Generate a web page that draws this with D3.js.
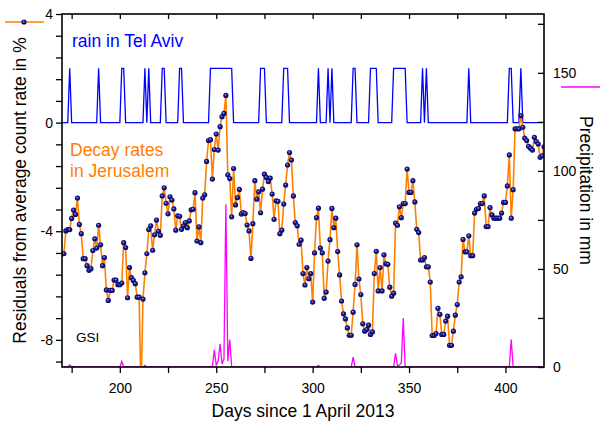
<!DOCTYPE html>
<html>
<head>
<meta charset="utf-8">
<script src="https://d3js.org/d3.v7.min.js"></script>
<style>
  body { margin: 0; background: #fff; }
  svg { display: block; font-family: "Liberation Sans", Arial, sans-serif; }
</style>
</head>
<body>
<svg width="600" height="422"></svg>
<script>
// residuals of decay rate (%), one value per day starting at firstDay
var firstDay = 170;
var decay = [
  -4.83, -4.83, -3.99, -3.94, -3.94, -3.53, -3.22, -3.38, -2.78, -3.75,
  -4.09, -5.01, -5.01, -5.27, -5.44, -5.38, -4.71, -4.28, -4.62, -3.78,
  -4.50, -5.27, -4.97, -6.16, -6.55, -6.18, -6.18, -5.80, -5.80, -5.97,
  -5.97, -5.91, -4.42, -4.60, -6.45, -5.34, -5.71, -5.81, -5.93, -6.43,
  -6.43, -10.0, -6.50, -5.53, -4.83, -3.94, -3.80, -4.70, -4.13, -3.59,
  -4.00, -4.15, -2.70, -2.40, -2.97, -3.36, -2.73, -2.85, -3.18, -3.96,
  -3.43, -3.45, -3.93, -3.80, -3.68, -3.87, -3.62, -3.21, -3.19, -2.58,
  -4.36, -3.84, -4.42, -2.78, -2.66, -1.43, -0.66, -0.63, -2.08, -0.99,
  -0.42, -1.01, -0.15, 0.22, 0.34, 1.00, -1.92, -2.06, -3.47, -1.69,
  -3.03, -2.76, -2.46, -3.37, -3.31, -3.35, -3.77, -3.99, -5.00, -3.72,
  -2.14, -2.82, -2.55, -3.32, -2.45, -1.90, -2.02, -2.17, -2.04, -2.63,
  -3.56, -2.88, -2.90, -4.09, -3.96, -3.00, -2.30, -1.56, -1.10, -1.38,
  -2.70, -3.68, -3.80, -4.48, -4.33, -5.56, -5.98, -5.34, -5.75, -5.56,
  -6.61, -4.80, -3.50, -3.15, -4.62, -4.80, -6.47, -6.24, -5.10, -4.31,
  -3.16, -3.87, -3.52, -4.75, -5.61, -6.57, -7.04, -7.23, -7.56, -7.83,
  -7.83, -6.98, -5.96, -4.50, -5.76, -6.33, -7.41, -7.68, -7.62, -7.46,
  -7.80, -7.71, -5.56, -4.74, -6.20, -5.34, -6.20, -4.87, -5.20, -5.22,
  -6.06, -6.39, -6.28, -3.70, -3.78, -3.10, -3.50, -2.98, -2.98, -1.71,
  -2.57, -2.57, -2.14, -2.92, -3.93, -4.05, -5.06, -5.06, -4.97, -5.31,
  -5.31, -5.87, -7.84, -7.84, -7.77, -6.84, -7.06, -7.80, -7.80, -7.31,
  -7.13, -8.20, -8.20, -7.68, -7.09, -6.70, -5.87, -5.68, -4.30, -4.76,
  -4.76, -4.17, -4.90, -4.90, -3.33, -3.19, -3.16, -2.98, -2.98, -2.70,
  -3.83, -3.83, -3.13, -3.40, -3.52, -3.52, -3.52, -3.52, -3.33, -2.94,
  -2.94, -2.33, -1.19, -3.52, -2.47, -0.23, -0.23, -0.23, 0.26, -0.17,
  -0.57, -0.66, -0.87, -0.94, -1.01, -0.54, -0.70, -0.79, -1.28, -1.22,
  -0.89
];

// days with rain in Tel Aviv (first day, last day); drawn at level 2 of the left axis
var rainSpells = [
  [174, 174], [189, 189], [201, 202], [213, 213], [215, 215], [222, 223],
  [231, 232], [247, 258], [273, 275], [285, 287], [303, 303], [308, 308],
  [310, 310], [321, 322], [330, 333], [342, 348], [357, 357], [359, 359],
  [381, 381], [402, 403], [408, 408]
];
var rainLevel = 2;

// precipitation in mm (GSI), zero on all other days
var precipDays = [174, 201, 213, 249, 250, 251, 252, 253, 254, 255, 256, 257, 303, 321, 343, 344, 345, 346, 347, 403];
var precipMM   = [1, 2.8, 0.8, 8.7, 1, 3, 11.7, 1.5, 4, 83, 3, 14, 0.8, 5, 7, 0.5, 1, 2, 25, 14];

var xDomain = [170, 420];
var xTickValues = [175, 200, 225, 250, 275, 300, 325, 350, 375, 400];
var xTickLabels = [200, 250, 300, 350, 400];
var leftDomain = [-9, 4];
var leftTickLabels = [4, 0, -4, -8];
var rightDomain = [0, 180];
var rightTickValues = [0, 25, 50, 75, 100, 125, 150, 175];
var rightTickLabels = [0, 50, 100, 150];

var orange = "#ff8000";

var svg = d3.select("svg");
var pL = 62, pR = 544, pT = 14, pB = 367;

var x = d3.scaleLinear().domain(xDomain).range([pL, pR]);
var yL = d3.scaleLinear().domain(leftDomain).range([pB, pT]);
var yR = d3.scaleLinear().domain(rightDomain).range([pB, pT]);

var days = decay.map(function (v, i) { return firstDay + i; });
var series = days.map(function (d, i) { return { day: d, v: decay[i] }; });
var rain = days.map(function (d) {
  var wet = rainSpells.some(function (s) { return d >= s[0] && d <= s[1]; });
  return { day: d, v: wet ? rainLevel : 0 };
});
var precip = days.map(function (d) {
  var k = precipDays.indexOf(d);
  return { day: d, mm: k < 0 ? 0 : precipMM[k] };
});

var defs = svg.append("defs");
defs.append("clipPath").attr("id", "plot")
  .append("rect").attr("x", pL).attr("y", pT)
  .attr("width", pR - pL).attr("height", pB - pT);
var grad = defs.append("radialGradient").attr("id", "ball")
  .attr("cx", 0.5).attr("cy", 0.5).attr("r", 0.55).attr("fx", 0.4).attr("fy", 0.35);
grad.append("stop").attr("offset", "0%").attr("stop-color", "#b8bcf0");
grad.append("stop").attr("offset", "40%").attr("stop-color", "#1c1c96");
grad.append("stop").attr("offset", "100%").attr("stop-color", "#000050");

var plot = svg.append("g").attr("clip-path", "url(#plot)");

plot.append("path")
  .datum(rain)
  .attr("fill", "none")
  .attr("stroke", "#0000ff")
  .attr("stroke-width", 1.3)
  .attr("d", d3.line().x(function (d) { return x(d.day); }).y(function (d) { return yL(d.v); }));

plot.append("path")
  .datum(precip)
  .attr("fill", "none")
  .attr("stroke", "#ff00ff")
  .attr("stroke-width", 1.3)
  .attr("d", d3.line().x(function (d) { return x(d.day); }).y(function (d) { return yR(d.mm); }));

plot.append("path")
  .datum(series)
  .attr("fill", "none")
  .attr("stroke", orange)
  .attr("stroke-width", 1.6)
  .attr("d", d3.line().x(function (d) { return x(d.day); }).y(function (d) { return yL(d.v); }));

plot.selectAll("circle.pt")
  .data(series)
  .enter()
  .append("circle")
  .attr("class", "pt")
  .attr("cx", function (d) { return x(d.day); })
  .attr("cy", function (d) { return yL(d.v); })
  .attr("r", 2.6)
  .attr("fill", "url(#ball)");

// axes
function fmt(list) {
  return function (d) {
    return list.some(function (t) { return Math.abs(t - d) < 1e-6; }) ? String(Math.round(d)) : "";
  };
}
function styleAxis(g) {
  g.select(".domain").remove();
  g.selectAll(".tick line").attr("stroke", "#000").attr("stroke-width", 1.3);
  g.selectAll(".tick text").attr("fill", "#000").style("font-size", "14px")
    .style("font-family", "'Liberation Sans', Arial, sans-serif");
}

var leftTicks = d3.range(0, 17).map(function (i) { return Math.round((4 - 0.8 * i) * 10) / 10; });

svg.append("g").attr("transform", "translate(" + pL + ",0)")
  .call(d3.axisLeft(yL).tickValues(leftTicks).tickSize(6).tickPadding(3).tickFormat(fmt(leftTickLabels)))
  .call(styleAxis);

svg.append("g").attr("transform", "translate(" + pR + ",0)")
  .call(d3.axisRight(yR).tickValues(rightTickValues).tickSize(-6).tickPadding(9).tickFormat(fmt(rightTickLabels)))
  .call(styleAxis);

svg.append("g").attr("transform", "translate(0," + pB + ")")
  .call(d3.axisBottom(x).tickValues(xTickValues).tickSize(6).tickPadding(10).tickFormat(fmt(xTickLabels)))
  .call(styleAxis);

svg.append("g").attr("transform", "translate(0," + pT + ")")
  .call(d3.axisTop(x).tickValues(xTickValues).tickSize(-5).tickFormat(""))
  .call(styleAxis);

svg.append("rect")
  .attr("x", pL).attr("y", pT)
  .attr("width", pR - pL).attr("height", pB - pT)
  .attr("fill", "none").attr("stroke", "#000").attr("stroke-width", 1.6);

// titles
svg.append("text")
  .attr("transform", "translate(26," + (pT + pB) / 2 + ") rotate(-90)")
  .attr("text-anchor", "middle")
  .style("font-size", "17.5px")
  .text("Residuals from average count rate in %");

svg.append("text")
  .attr("transform", "translate(580," + (pT + pB) / 2 + ") rotate(90)")
  .attr("text-anchor", "middle")
  .style("font-size", "17.5px")
  .text("Precipitation in mm");

svg.append("text")
  .attr("x", (pL + pR) / 2).attr("y", 417)
  .attr("text-anchor", "middle")
  .style("font-size", "17.5px")
  .text("Days since 1 April 2013");

// in-plot labels
svg.append("text").attr("x", 72).attr("y", 47)
  .attr("fill", "#0000ff").style("font-size", "17.5px").text("rain in Tel Aviv");
svg.append("text").attr("x", 70).attr("y", 156)
  .attr("fill", orange).style("font-size", "17.5px").text("Decay rates");
svg.append("text").attr("x", 70).attr("y", 177)
  .attr("fill", orange).style("font-size", "17.5px").text("in Jerusalem");
svg.append("text").attr("x", 76).attr("y", 342)
  .attr("fill", "#000").style("font-size", "13.5px").text("GSI");

// legend keys
svg.append("line").attr("x1", 5).attr("x2", 44).attr("y1", 22).attr("y2", 22)
  .attr("stroke", orange).attr("stroke-width", 1.6);
svg.append("circle").attr("cx", 24).attr("cy", 22).attr("r", 2.6).attr("fill", "url(#ball)");
svg.append("line").attr("x1", 561).attr("x2", 600).attr("y1", 87).attr("y2", 87)
  .attr("stroke", "#ff00ff").attr("stroke-width", 1.3);
</script>
</body>
</html>
